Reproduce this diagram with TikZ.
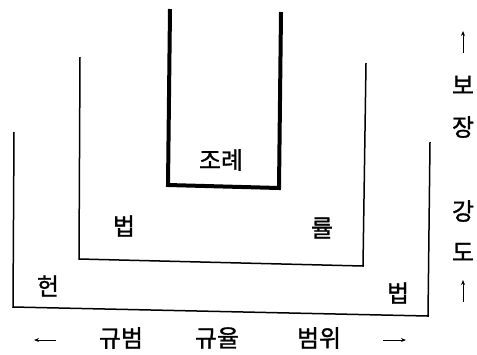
\documentclass[tikz,border=0pt]{standalone}
\usepackage{fontspec}
\setmainfont{Noto Sans CJK KR}[AutoFakeBold=1.2]
\usetikzlibrary{arrows.meta}
\begin{document}
\begin{tikzpicture}[x=1bp,y=-1bp,
  lbl/.style={font=\fontsize{24}{24}\selectfont\bfseries, inner sep=0pt},
  thinU/.style={line width=1.5bp, line join=miter},
  thickU/.style={line width=4bp, line join=miter},
  arr/.style={line width=1bp, -{Stealth[length=5bp,width=4bp]}}]
\useasboundingbox (0,0) rectangle (477,354);
% outer U
\draw[thinU] (14,132) -- (13,307) -- (428,316) -- (430,142);
% middle U
\draw[thinU] (80,57) -- (79,259) -- (363,266) -- (366,63);
% inner thick U
\draw[thickU] (170,9) -- (168,185) -- (279,188) -- (281,12);
% labels
\node[lbl] (jore) at (221,160) {조례};
\node[lbl] (beop1) at (124,226) {법};
\node[lbl] (ryul) at (322,228) {률};
\node[lbl] (heon) at (48,286) {헌};
\node[lbl] (beop2) at (398,293) {법};
% bottom row
\node[lbl] (gyubeom) at (121,338) {규범};
\node[lbl] (gyuyul) at (217,338) {규율};
\node[lbl] (beomwi) at (319,338) {범위};
\coordinate (la1) at (56,340);
\coordinate (la2) at (34,340);
\coordinate (ra1) at (383,340);
\coordinate (ra2) at (406,340);
\draw[arr] (la1) -- (la2);
\draw[arr] (ra1) -- (ra2);
% right column
\node[lbl] (bo) at (463,85) {보};
\node[lbl] (jang) at (463,127) {장};
\node[lbl] (gang) at (463,211) {강};
\node[lbl] (do) at (463,252) {도};
\coordinate (ua1) at (463,53);
\coordinate (ua2) at (463,31);
\coordinate (ub1) at (463,302);
\coordinate (ub2) at (463,280);
\draw[arr] (ua1) -- (ua2);
\draw[arr] (ub1) -- (ub2);
\end{tikzpicture}
\end{document}
